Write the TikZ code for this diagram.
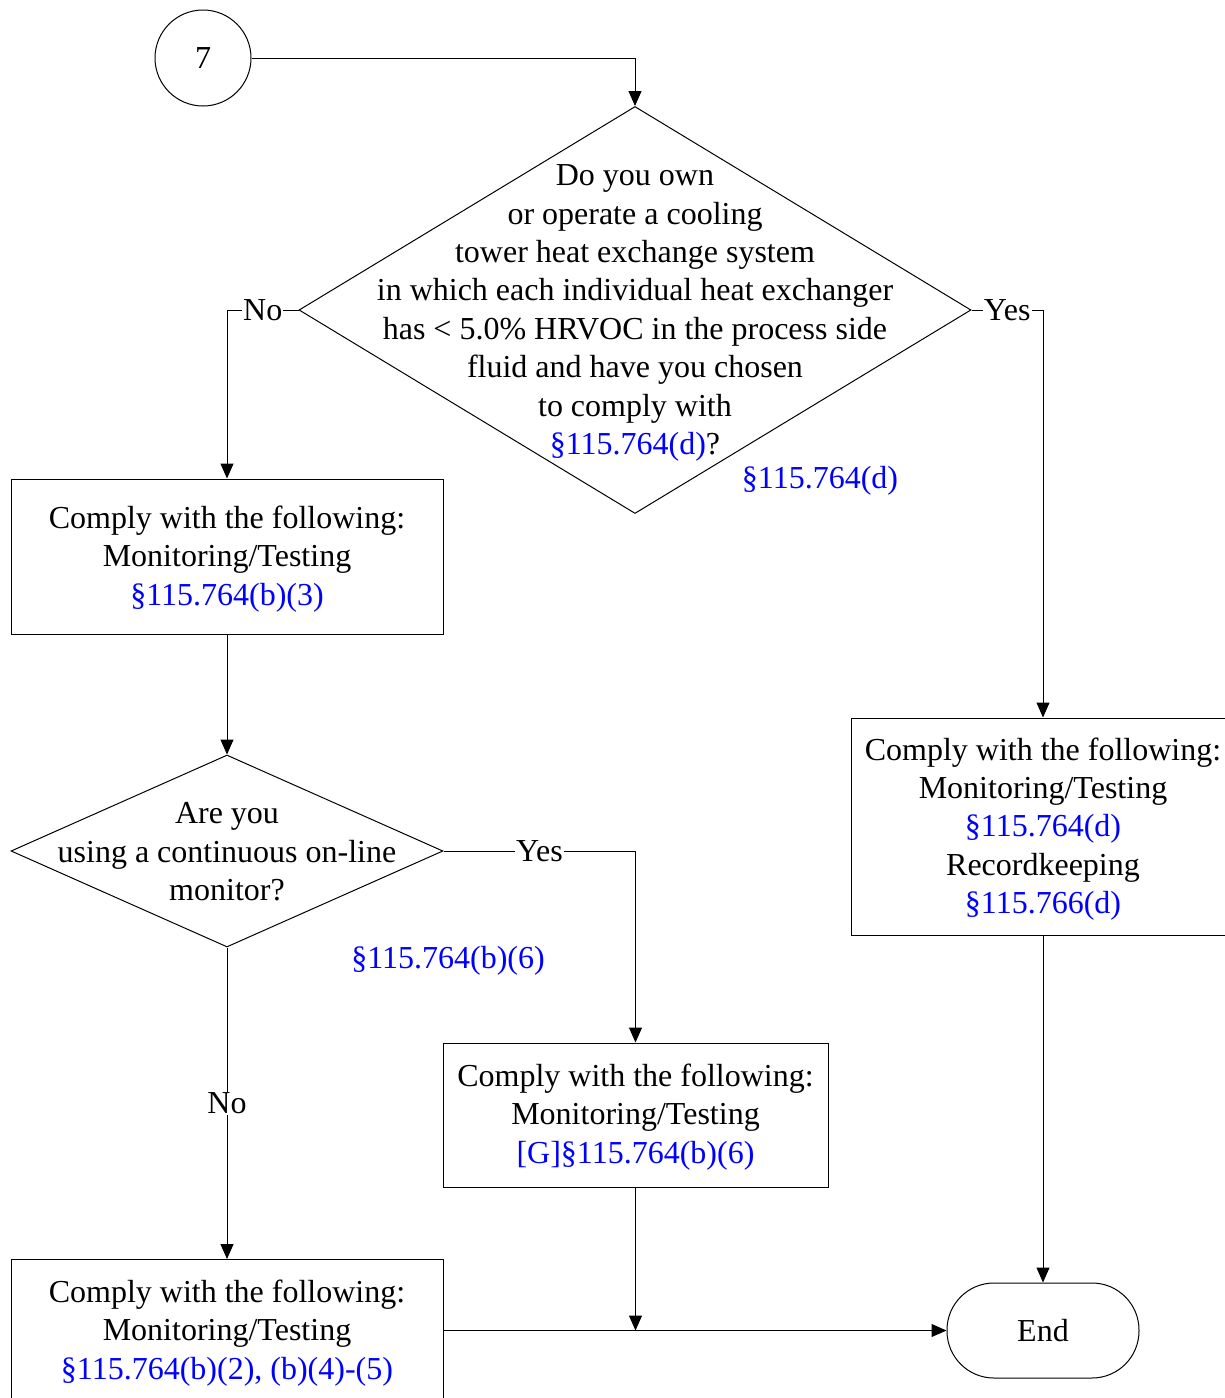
\documentclass[tikz,border=0pt]{standalone}
\usepackage{fontspec}
\setmainfont{Liberation Serif}
\usetikzlibrary{shapes.geometric,arrows.meta}
\begin{document}
\begin{tikzpicture}[x=1pt,y=-1pt,
 line/.style={draw=black, line width=1pt},
 arr/.style={line, -{Triangle[length=15pt,width=13pt]}},
 txt/.style={align=center, font=\fontsize{32}{38.4}\selectfont, inner sep=0pt},
 box/.style={draw=black, line width=1pt, inner sep=0pt, rectangle},
 lbl/.style={fill=white, font=\fontsize{32}{38.4}\selectfont, inner sep=1pt},
 ref/.style={text=blue, font=\fontsize{32}{38.4}\selectfont, inner sep=0pt}
]
\useasboundingbox (0,0) rectangle (1225,1398);
% start circle
\node[circle, draw=black, line width=1pt, minimum size=96pt, inner sep=0pt, font=\fontsize{32}{38.4}\selectfont] (c7) at (203,58) {7};
% diamond 1
\node[diamond, draw=black, line width=1pt, minimum width=672pt, minimum height=407pt, inner sep=0pt] (d1) at (635,310) {};
\node[txt] (d1t) at (635,313) {Do you own\\or operate a cooling\\tower heat exchange system\\in which each individual heat exchanger\\has < 5.0\% HRVOC in the process side\\fluid and have you chosen\\to comply with\\\textcolor{blue}{§115.764(d)}?};
\node[ref] (r1) at (820,481) {§115.764(d)};
% box 1
\node[box, minimum width=432pt, minimum height=155pt] (b1) at (227,556.5) {};
\node[txt] (b1t) at (227,559) {Comply with the following:\\Monitoring/Testing\\\textcolor{blue}{§115.764(b)(3)}};
% diamond 2
\node[diamond, draw=black, line width=1pt, minimum width=432pt, minimum height=192pt, inner sep=0pt] (d2) at (227,851) {};
\node[txt] (d2t) at (227,852) {Are you\\using a continuous on-line\\monitor?};
\node[ref] (r2) at (448,961) {§115.764(b)(6)};
% right box
\node[box, minimum width=384pt, minimum height=217pt] (rb) at (1043,826.5) {};
\node[txt] (rbt) at (1043,829) {Comply with the following:\\Monitoring/Testing\\\textcolor{blue}{§115.764(d)}\\Recordkeeping\\\textcolor{blue}{§115.766(d)}};
% box 3
\node[box, minimum width=385pt, minimum height=144pt] (b3) at (635.5,1115) {};
\node[txt] (b3t) at (635.5,1117) {Comply with the following:\\Monitoring/Testing\\\textcolor{blue}{[G]§115.764(b)(6)}};
% bottom box
\node[box, minimum width=432pt, minimum height=142pt] (bb) at (227,1330.5) {};
\node[txt] (bbt) at (227,1333) {Comply with the following:\\Monitoring/Testing\\\textcolor{blue}{§115.764(b)(2), (b)(4)-(5)}};
% end
\node[box, rounded corners=47pt, minimum width=192pt, minimum height=95pt, font=\fontsize{32}{38.4}\selectfont] (end) at (1043,1330.5) {End};
\coordinate (j) at (b3.south |- bb.east);
% connectors
\draw[arr] (c7.east) -| (d1.north);
\draw[arr] (d1.west) -| (b1.north) node[lbl, pos=0.25] {No};
\draw[arr] (d1.east) -| (rb.north) node[lbl, pos=0.25] {Yes};
\draw[arr] (b1.south) -- (d2.north);
\draw[arr] (d2.east) -| (b3.north) node[lbl, pos=0.25] {Yes};
\draw[arr] (d2.south) -- (bb.north) node[lbl, pos=0.5] {No};
\draw[arr] (b3.south) -- (j);
\draw[arr] (bb.east) -- (end.west);
\draw[arr] (rb.south) -- (end.north);
\end{tikzpicture}
\end{document}
